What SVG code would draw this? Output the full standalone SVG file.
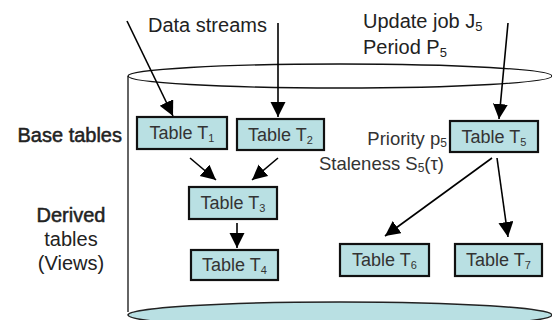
<svg xmlns="http://www.w3.org/2000/svg" width="552" height="320" viewBox="0 0 552 320">
<defs>
<marker id="ah" markerUnits="userSpaceOnUse" markerWidth="16" markerHeight="16" refX="15" refY="7.5" orient="auto">
<path d="M0,0 L15,7.5 L0,15 Z" fill="#000"/>
</marker>
<style>
.lbl{font-family:"Liberation Sans",Arial,sans-serif;font-size:20px;fill:#222}
.semi{stroke:#222;stroke-width:0.5}
.side{font-family:"Liberation Sans",Arial,sans-serif;font-size:18.5px;fill:#333}
.box{fill:#b9e0e3;stroke:#111;stroke-width:2.2}
.bt{font-family:"Liberation Sans",Arial,sans-serif;font-size:18px;fill:#333;text-anchor:middle}
.sub{font-size:11px}
.cyl{fill:none;stroke:#111;stroke-width:1.3}
.edge{fill:none;stroke:#000;stroke-width:1.6;marker-end:url(#ah)}
</style>
</defs>
<g id="cylinder">
<ellipse cx="340" cy="315" rx="212" ry="13" fill="#b9e0e3" stroke="#222" stroke-width="1.6"/>
<line x1="128" y1="76" x2="128" y2="312" class="cyl"/>
<ellipse cx="340" cy="76" rx="212" ry="12" class="cyl"/>
</g>
<g id="labels">
<text class="lbl" x="148" y="32">Data streams</text>
<text class="lbl" x="363" y="28">Update job J<tspan font-size="13" dy="3">5</tspan></text>
<text class="lbl" x="363" y="54">Period P<tspan font-size="13" dy="3">5</tspan></text>
<text class="lbl semi" x="122" y="142" text-anchor="end">Base tables</text>
<text class="lbl semi" x="71" y="222" text-anchor="middle">Derived</text>
<text class="lbl" x="71" y="246" text-anchor="middle">tables</text>
<text class="lbl" x="71" y="270" text-anchor="middle">(Views)</text>
<text class="side" x="447" y="145" text-anchor="end">Priority p<tspan font-size="12" dy="2">5</tspan></text>
<text class="side" x="444" y="170" text-anchor="end">Staleness S<tspan font-size="12" dy="2">5</tspan><tspan dy="-2">(τ)</tspan></text>
</g>
<g id="T1"><rect class="box" x="137" y="117" width="90" height="32"/><text class="bt" x="182" y="139">Table T<tspan class="sub" dy="3">1</tspan></text></g>
<g id="T2"><rect class="box" x="237" y="119" width="87" height="31"/><text class="bt" x="280.5" y="141">Table T<tspan class="sub" dy="3">2</tspan></text></g>
<g id="T3"><rect class="box" x="189" y="187" width="88" height="32"/><text class="bt" x="233" y="209">Table T<tspan class="sub" dy="3">3</tspan></text></g>
<g id="T4"><rect class="box" x="191" y="250" width="87" height="30"/><text class="bt" x="234.5" y="271">Table T<tspan class="sub" dy="3">4</tspan></text></g>
<g id="T5"><rect class="box" x="450" y="121" width="88" height="31"/><text class="bt" x="494" y="143">Table T<tspan class="sub" dy="3">5</tspan></text></g>
<g id="T6"><rect class="box" x="340" y="244" width="89" height="32"/><text class="bt" x="384.5" y="266">Table T<tspan class="sub" dy="3">6</tspan></text></g>
<g id="T7"><rect class="box" x="455" y="244" width="87" height="32"/><text class="bt" x="498.5" y="266">Table T<tspan class="sub" dy="3">7</tspan></text></g>
<g id="connectors">
<line class="edge" x1="127" y1="21" x2="173" y2="116"/>
<line class="edge" x1="278" y1="23" x2="278" y2="117"/>
<line class="edge" x1="508" y1="23" x2="499" y2="119"/>
<line class="edge" x1="190" y1="158" x2="216" y2="180"/>
<line class="edge" x1="278" y1="158" x2="252" y2="180"/>
<line class="edge" x1="237" y1="223" x2="237" y2="248"/>
<line class="edge" x1="492" y1="158" x2="385" y2="236"/>
<line class="edge" x1="497" y1="158" x2="508" y2="237"/>
</g>
</svg>
